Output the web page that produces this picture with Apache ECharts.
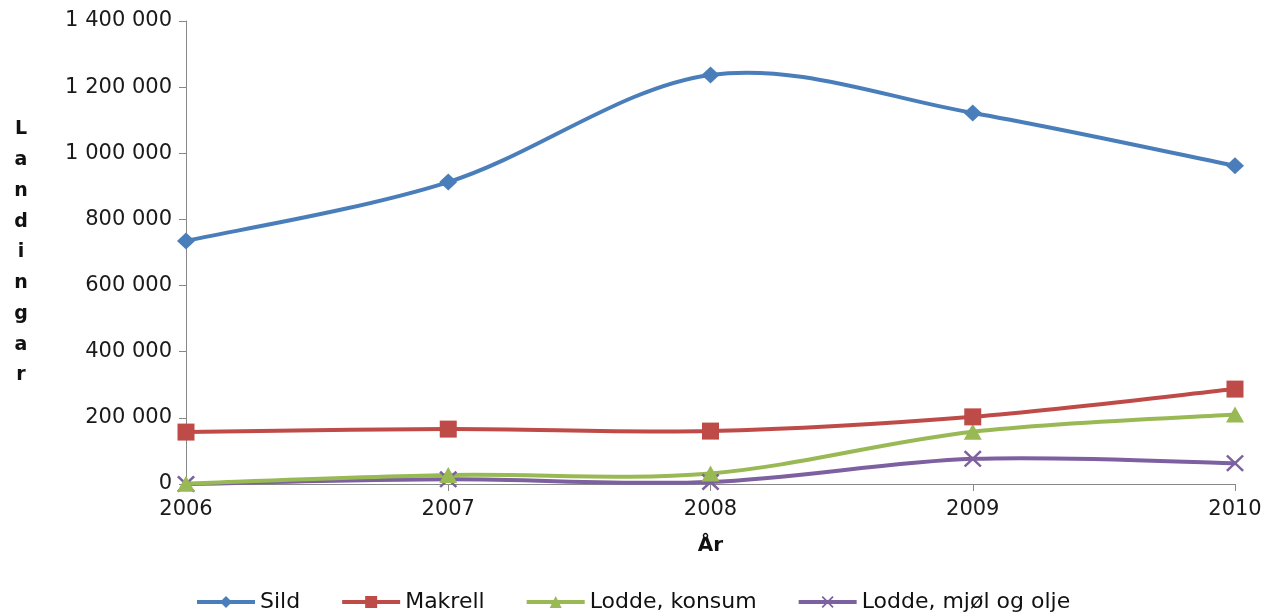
<!DOCTYPE html>
<html><head><meta charset="utf-8">
<script src="https://cdn.jsdelivr.net/npm/echarts@6/dist/echarts.min.js"></script>
<style>html,body{margin:0;padding:0;background:#fff}#c{width:1268px;height:614px}</style>
</head><body><div id="c"></div>
<script>
const years = [2006, 2007, 2008, 2009, 2010];
const sild = [735000, 913000, 1237000, 1122000, 962000];
const makrell = [157000, 166000, 160000, 203000, 287000];
const loddeKonsum = [1000, 27000, 32000, 158000, 210000];
const loddeMjol = [0, 14000, 6000, 76000, 63000];
const seriesNames = ['Sild', 'Makrell', 'Lodde, konsum', 'Lodde, mjøl og olje'];
const yTicks = { min: 0, max: 1400000, interval: 200000 };
const yTitle = 'Landingar';
const xTitle = 'År';

const colors = ['#4A7EBB', '#BE4B48', '#98B954', '#7D60A0'];
const xPath = 'path://M0,1 L1,0 L5,4 L9,0 L10,1 L6,5 L10,9 L9,10 L5,6 L1,10 L0,9 L4,5 Z';
const symbols = ['diamond', 'rect', 'triangle', xPath];
const symbolSizes = [[18, 17], [17, 17], [18, 16], [18, 17]];
const dataSets = [sild, makrell, loddeKonsum, loddeMjol];
const font = 'DejaVu Sans';

// Smoothed curve (Excel style cardinal spline) drawn through the axis scales
function curveRenderer(values, color) {
  return function (params, api) {
    const pts = years.map((y, i) => api.coord([y, values[i]]));
    const n = pts.length;
    const P = i => pts[Math.max(0, Math.min(n - 1, i))];
    const children = [];
    for (let i = 0; i < n - 1; i++) {
      const p0 = P(i - 1), p1 = P(i), p2 = P(i + 1), p3 = P(i + 2);
      children.push({
        type: 'bezierCurve',
        shape: {
          x1: p1[0], y1: p1[1],
          cpx1: p1[0] + (p2[0] - p0[0]) / 6, cpy1: p1[1] + (p2[1] - p0[1]) / 6,
          cpx2: p2[0] - (p3[0] - p1[0]) / 6, cpy2: p2[1] - (p3[1] - p1[1]) / 6,
          x2: p2[0], y2: p2[1]
        },
        style: { stroke: color, lineWidth: 4, fill: null, lineCap: 'round' }
      });
    }
    return { type: 'group', children: children };
  };
}

const curveSeries = dataSets.map((d, i) => ({
  name: '_curve' + i, type: 'custom', silent: true, clip: false, z: 2 + (3 - i),
  data: [[years[0], d[0]]],
  renderItem: curveRenderer(d, colors[i])
}));
const markerSeries = dataSets.map((d, i) => ({
  name: seriesNames[i], type: 'line', smooth: false,
  data: d.map((v, j) => [years[j], v]),
  symbol: symbols[i], symbolSize: symbolSizes[i], showSymbol: true,
  lineStyle: { width: 4, color: colors[i], opacity: 0 },
  itemStyle: { color: colors[i] },
  emphasis: { disabled: true },
  z: 10 + (3 - i)
}));

const chart = echarts.init(document.getElementById('c'), null, { renderer: 'canvas' });
chart.setOption({
  animation: false,
  color: colors,
  grid: { left: 186, right: 33, top: 21, bottom: 130, containLabel: false },
  legend: {
    top: 586, left: 190,
    itemWidth: 58, itemHeight: 15, itemGap: 40,
    textStyle: { fontFamily: font, fontSize: 22, color: '#111' },
    data: seriesNames.map((n, i) => ({
      name: n,
      lineStyle: { width: 4, opacity: 1, color: colors[i] }
    }))
  },
  xAxis: {
    type: 'value', min: years[0], max: years[years.length - 1], interval: 1,
    name: xTitle, nameLocation: 'middle', nameGap: 52,
    nameTextStyle: { fontFamily: font, fontSize: 20, fontWeight: 'bold', color: '#111' },
    axisLine: { show: true, lineStyle: { color: '#888', width: 1 } },
    axisTick: { show: true, length: 7, lineStyle: { color: '#888' } },
    axisLabel: { fontFamily: font, fontSize: 21, color: '#1a1a1a', margin: 15, formatter: v => String(v) },
    splitLine: { show: false }
  },
  yAxis: {
    type: 'value', min: yTicks.min, max: yTicks.max, interval: yTicks.interval,
    name: yTitle.split('').join('\n'), nameLocation: 'middle', nameGap: 165, nameRotate: 0,
    nameTextStyle: { fontFamily: font, fontSize: 19, fontWeight: 'bold', color: '#111', lineHeight: 30.75, align: 'center' },
    axisLine: { show: true, lineStyle: { color: '#888', width: 1 } },
    axisTick: { show: true, length: 7, lineStyle: { color: '#888' } },
    axisLabel: { fontFamily: font, fontSize: 21, color: '#1a1a1a', margin: 14,
      formatter: v => String(v).replace(/\B(?=(\d{3})+(?!\d))/g, ' ') },
    splitLine: { show: false }
  },
  series: curveSeries.concat(markerSeries)
});
</script></body></html>
